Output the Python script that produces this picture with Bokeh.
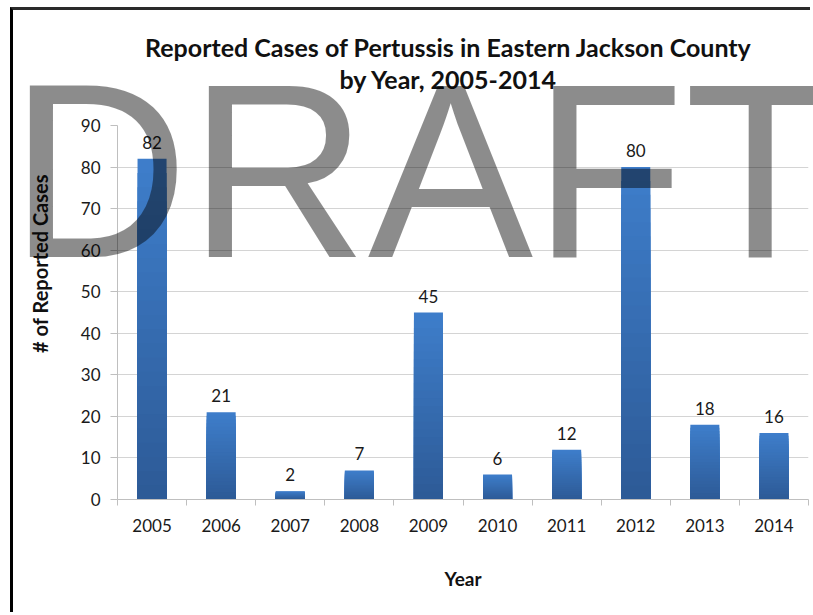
from bokeh.plotting import figure
from bokeh.models import Range1d, FixedTicker, LabelSet, ColumnDataSource
from bokeh.core.properties import value
from bokeh.embed import file_html
from bokeh.resources import INLINE

# ---- data ----
years = ["2005", "2006", "2007", "2008", "2009", "2010", "2011", "2012", "2013", "2014"]
cases = [82, 21, 2, 7, 45, 6, 12, 80, 18, 16]
y_ticks = [0, 10, 20, 30, 40, 50, 60, 70, 80, 90]
title_line1 = "Reported Cases of Pertussis in Eastern Jackson County"
title_line2 = "by Year, 2005-2014"
x_title = "Year"
y_title = "# of Reported Cases"
watermark = "DRAFT"

FONT = "Lato"
n = len(years)
xs = list(range(n))

# ================= main chart =================
p = figure(width=800, height=605, output_backend="svg", toolbar_location=None,
           x_range=Range1d(-0.5, n - 0.5), y_range=Range1d(0, 90),
           min_border_left=104, min_border_right=5, min_border_top=115, min_border_bottom=116)
p.styles = {"margin-left": "10px", "margin-top": "7px",
            "border-left": "3px solid #000000", "border-top": "3px solid #2a2a2a"}
p.outline_line_color = None
p.background_fill_color = "white"
p.border_fill_color = "white"

# bars with a vertical gradient (nested slices, darkest at the bottom)
N = 24
bottom_rgb = (45, 90, 150)
top_rgb = (62, 126, 203)
bx, btop, bcol = [], [], []
for k in range(N, 0, -1):
    f = k / N
    t = (k - 0.5) / N
    c = tuple(int(round(bottom_rgb[j] + (top_rgb[j] - bottom_rgb[j]) * t)) for j in range(3))
    for i in range(n):
        bx.append(xs[i])
        btop.append(cases[i] * f)
        bcol.append("#%02x%02x%02x" % c)
src = ColumnDataSource(dict(x=bx, top=btop, color=bcol))
p.vbar(x="x", top="top", bottom=0, width=0.42, fill_color="color", line_color=None, source=src)

# axes
p.xaxis.ticker = FixedTicker(ticks=xs, minor_ticks=[i - 0.5 for i in range(n + 1)])
p.xaxis.major_label_overrides = {i: years[i] for i in range(n)}
p.xaxis.major_tick_line_color = None
p.xaxis.major_tick_out = 0
p.xaxis.major_tick_in = 0
p.xaxis.minor_tick_out = 6
p.xaxis.minor_tick_in = 0
p.xaxis.minor_tick_line_color = "#bfbfbf"
p.xaxis.axis_line_color = "#bfbfbf"
p.xaxis.major_label_standoff = 13
p.xaxis.axis_label = x_title
p.xaxis.axis_label_text_font = FONT
p.xaxis.axis_label_text_font_style = "bold"
p.xaxis.axis_label_text_font_size = "19px"
p.xaxis.axis_label_text_color = "#111111"
p.xaxis.axis_label_standoff = 32

p.yaxis.ticker = FixedTicker(ticks=y_ticks)
p.yaxis.major_tick_out = 7
p.yaxis.major_tick_in = 0
p.yaxis.major_tick_line_color = "#bfbfbf"
p.yaxis.minor_tick_line_color = None
p.yaxis.axis_line_color = "#bfbfbf"
p.yaxis.major_label_standoff = 10

for ax in (p.xaxis, p.yaxis):
    ax.major_label_text_font = FONT
    ax.major_label_text_font_size = "17px"
    ax.major_label_text_color = "#1a1a1a"

p.xgrid.visible = False
p.ygrid.grid_line_color = "#d4d4d4"
p.ygrid.grid_line_width = 1

# value labels above bars
lab_src = ColumnDataSource(dict(x=xs, y=cases, t=[str(v) for v in cases]))
p.add_layout(LabelSet(x="x", y="y", text="t", source=lab_src, y_offset=10,
                      text_align="center", text_baseline="alphabetic",
                      text_font=value(FONT), text_font_size="17px", text_color="#1a1a1a"))

# ================= overlay: titles + watermark (page pixel space) =================
W, H = 813, 615
ov = figure(width=W, height=H, output_backend="svg", toolbar_location=None,
            x_range=Range1d(0, W), y_range=Range1d(H, 0),
            x_axis_location=None, y_axis_location=None, min_border=0)
ov.styles = {"position": "absolute", "left": "0px", "top": "0px", "pointer-events": "none"}
ov.grid.visible = False
ov.outline_line_color = None
ov.background_fill_alpha = 0
ov.border_fill_alpha = 0

ov.text(x=[448, 448], y=[46, 78], text=[title_line1, title_line2],
        text_font=value(FONT), text_font_size="25px", text_font_style="bold",
        text_align="center", text_baseline="alphabetic", text_color="#111111")
ov.text(x=[39], y=[263], text=[y_title], angle=1.5707963,
        text_font=value(FONT), text_font_size="20px", text_font_style="bold",
        text_align="center", text_baseline="middle", text_color="#111111")
ov.text(x=[9], y=[170], text=[watermark],
        text_font=value("Liberation Sans"), text_font_size="248px",
        text_color="black", text_alpha=0.45,
        text_align="left", text_baseline="alphabetic")

open("out.html", "w").write(file_html([p, ov], INLINE))
